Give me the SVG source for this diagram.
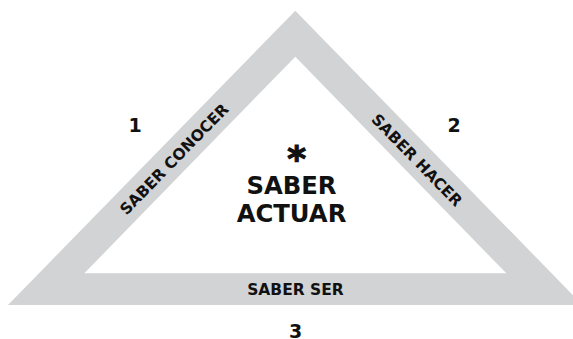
<svg xmlns="http://www.w3.org/2000/svg" width="573" height="339" viewBox="0 0 573 339">
  <style>
    .t { font-family: "DejaVu Sans", "Liberation Sans", sans-serif; font-weight: bold; fill: #111111; text-anchor: middle; }
    .bar { fill: #d1d3d4; fill-rule: evenodd; }
  </style>
  <rect width="573" height="339" fill="#ffffff"/>
  <g id="triangle">
    <path class="bar" d="M295.3 10.7 L582.6 305 L8 305 Z M295.3 56.7 L84.3 273.3 L506.3 273.3 Z"/>
  </g>
  <g id="saber-conocer">
    <text class="t" font-size="15.5" transform="translate(174 159) rotate(-45.7)" y="5.6">SABER CONOCER</text>
  </g>
  <g id="saber-hacer">
    <text class="t" font-size="15.5" transform="translate(417 160) rotate(45.7)" y="5.6">SABER HACER</text>
  </g>
  <g id="saber-ser">
    <text class="t" font-size="15.5" x="295.5" y="295.3">SABER SER</text>
  </g>
  <g id="saber-actuar">
    <text class="t" font-size="36" x="296.7" y="171" stroke="#111111" stroke-width="1.2">*</text>
    <text class="t" font-size="24.3" x="291.5" y="194.3">SABER</text>
    <text class="t" font-size="24.3" x="291.5" y="221.7">ACTUAR</text>
  </g>
  <g id="numbers">
    <text class="t" font-size="19" x="135" y="132.3">1</text>
    <text class="t" font-size="19" x="454" y="131.7">2</text>
    <text class="t" font-size="19" x="295.7" y="337.5">3</text>
  </g>
</svg>
